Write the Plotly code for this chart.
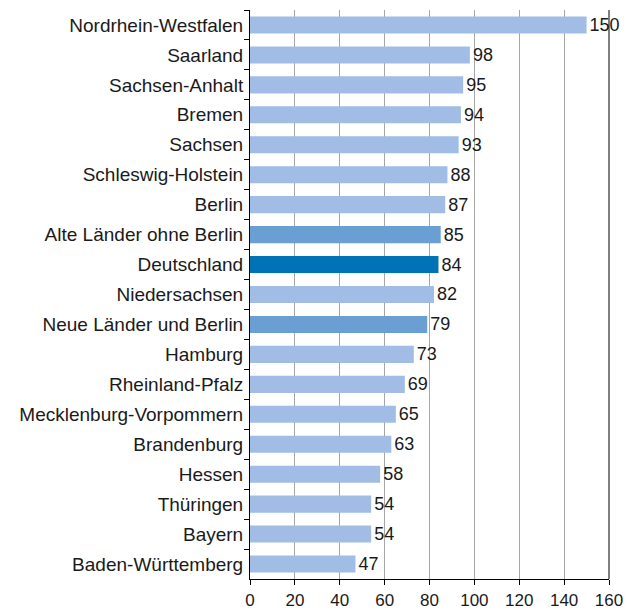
import plotly.graph_objects as go

categories = ["Nordrhein-Westfalen", "Saarland", "Sachsen-Anhalt", "Bremen", "Sachsen",
              "Schleswig-Holstein", "Berlin", "Alte Länder ohne Berlin", "Deutschland",
              "Niedersachsen", "Neue Länder und Berlin", "Hamburg", "Rheinland-Pfalz",
              "Mecklenburg-Vorpommern", "Brandenburg", "Hessen", "Thüringen", "Bayern",
              "Baden-Württemberg"]
values = [150, 98, 95, 94, 93, 88, 87, 85, 84, 82, 79, 73, 69, 65, 63, 58, 54, 54, 47]
x_ticks = [0, 20, 40, 60, 80, 100, 120, 140, 160]

light, medium, dark = "#a1bde6", "#6a9fd3", "#0073b7"
colors = []
for c in categories:
    if c == "Deutschland":
        colors.append(dark)
    elif c in ("Alte Länder ohne Berlin", "Neue Länder und Berlin"):
        colors.append(medium)
    else:
        colors.append(light)

FONT = "Liberation Sans, Arial, Helvetica, sans-serif"
TXT = "#1a1a1a"

fig = go.Figure(go.Bar(
    y=categories, x=values, orientation="h",
    marker=dict(color=colors, line=dict(width=0)),
    text=[str(v) for v in values], textposition="outside",
    textfont=dict(color=TXT, size=18, family=FONT),
    constraintext="none",
    cliponaxis=False,
))

fig.update_layout(
    width=630, height=610,
    margin=dict(l=250, r=21, t=10, b=31, autoexpand=False),
    paper_bgcolor="white", plot_bgcolor="white",
    bargap=0.43,
    showlegend=False,
    uniformtext=dict(minsize=18, mode="show"),
    font=dict(family=FONT, size=18, color=TXT),
    xaxis=dict(range=[0, 160], tickvals=x_ticks, ticktext=[str(t) for t in x_ticks],
               showgrid=True, gridcolor="#a6a6a6", gridwidth=1,
               showline=True, linecolor="black", linewidth=1, mirror=False,
               ticks="outside", ticklen=5, tickcolor="black", zeroline=False,
               tickfont=dict(size=17, color=TXT), automargin=False, ticklabelstandoff=1),
    yaxis=dict(autorange="reversed", showline=True, linecolor="black", linewidth=1,
               ticks="outside", tickson="boundaries", ticklen=5, tickcolor="black",
               tickwidth=1, showgrid=False, tickfont=dict(size=19, color=TXT),
               automargin=False, ticklabelstandoff=2),
)

# right border line
fig.add_shape(type="line", xref="paper", yref="paper", x0=1, x1=1, y0=0, y1=1,
              line=dict(color="black", width=1))

fig.write_html("out.html",
               config={"displayModeBar": False},
               post_script="document.body.style.margin='0';document.body.style.overflow='hidden';")
